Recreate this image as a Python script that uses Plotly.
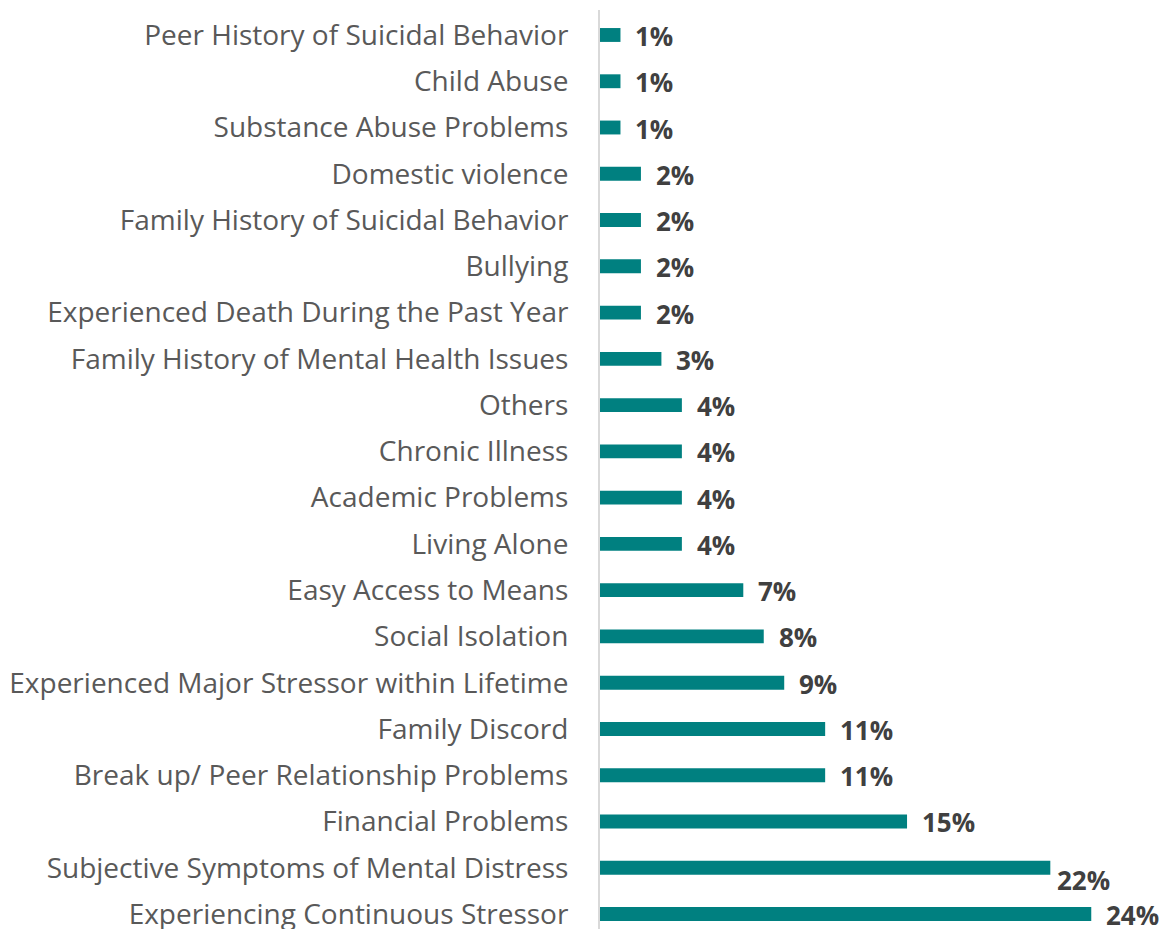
import plotly.graph_objects as go

categories = [
    "Peer History of Suicidal Behavior",
    "Child Abuse",
    "Substance Abuse Problems",
    "Domestic violence",
    "Family History of Suicidal Behavior",
    "Bullying",
    "Experienced Death During the Past Year",
    "Family History of Mental Health Issues",
    "Others",
    "Chronic Illness",
    "Academic Problems",
    "Living Alone",
    "Easy Access to Means",
    "Social Isolation",
    "Experienced Major Stressor within Lifetime",
    "Family Discord",
    "Break up/ Peer Relationship Problems",
    "Financial Problems",
    "Subjective Symptoms of Mental Distress",
    "Experiencing Continuous Stressor",
]
values = [1, 1, 1, 2, 2, 2, 2, 3, 4, 4, 4, 4, 7, 8, 9, 11, 11, 15, 22, 24]
labels = [f"{v}%" for v in values]

FONT = "Open Sans"
fig = go.Figure()
fig.add_trace(go.Bar(
    x=values, y=categories, orientation="h",
    marker=dict(color="#008080", line=dict(width=0)),
    width=0.3, hoverinfo="x+y",
))

for i, (c, v, t) in enumerate(zip(categories, values, labels)):
    crowded = (i < len(values) - 1 and values[i + 1] - v < 3 and v > 15)
    fig.add_annotation(
        x=v, y=c, text=f"<b>{t}</b>", showarrow=False,
        xanchor="left", yanchor="middle",
        xshift=5 if crowded else 13, yshift=-12 if crowded else -1,
        font=dict(family=FONT, size=26, color="#404040"),
    )

fig.update_layout(
    width=1167, height=929,
    margin=dict(l=600, r=0, t=10, b=0, autoexpand=False),
    paper_bgcolor="white", plot_bgcolor="white",
    showlegend=False,
    bargap=0.7,
    xaxis=dict(range=[0, 27.7], showgrid=False, zeroline=False,
               showticklabels=False, showline=False, ticks=""),
    yaxis=dict(categoryorder="array", categoryarray=categories,
               range=[19.324, -0.54], showgrid=False, zeroline=False,
               showline=True, linecolor="#d9d9d9", linewidth=2,
               ticks="", ticklabelstandoff=24, automargin=False,
               tickfont=dict(family=FONT, size=28, color="#595959")),
)

fig.write_html("out.html", config={"displayModeBar": False},
               post_script="document.body.style.margin='0';")
